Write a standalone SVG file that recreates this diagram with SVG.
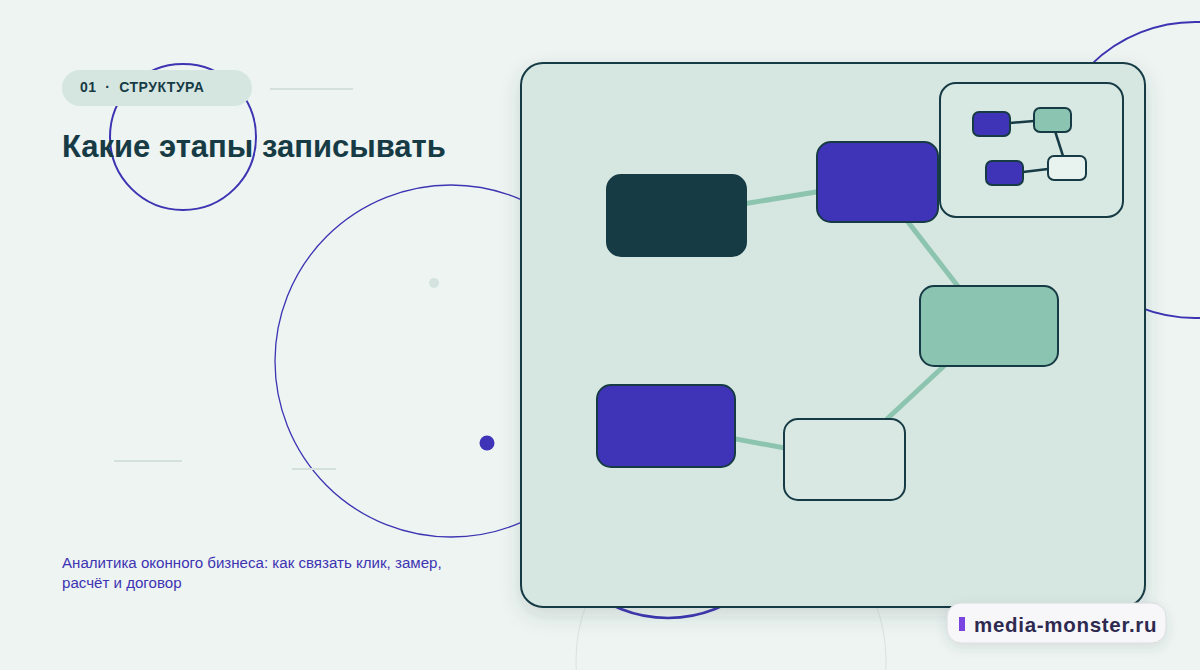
<svg xmlns="http://www.w3.org/2000/svg" width="1200" height="670" viewBox="0 0 1200 670">
<defs>
<style>
.node{stroke:#173b45;stroke-width:2}
.mini{stroke:#173b45;stroke-width:2}
.edge{stroke:#8cc4b0;stroke-width:5;fill:none;stroke-linecap:round}
.medge{stroke:#173b45;stroke-width:2.5;fill:none}
.ring{fill:none;stroke:#3d33b3}
.faint{stroke:#d3e0dc;stroke-width:2}
</style>
<filter id="sh" x="-10%" y="-10%" width="125%" height="130%">
<feDropShadow dx="0" dy="8" stdDeviation="10" flood-color="#2a4a48" flood-opacity="0.16"/>
</filter>
<filter id="sh2" x="-20%" y="-40%" width="140%" height="200%">
<feDropShadow dx="0" dy="4" stdDeviation="6" flood-color="#2a4a48" flood-opacity="0.12"/>
</filter>
</defs>
<rect width="1200" height="670" fill="#edf4f1"/>
<g id="decor">
<circle cx="731" cy="660" r="155" fill="none" stroke="#dde5e2" stroke-width="1.2"/>
<circle cx="668" cy="490" r="128" class="ring" stroke-width="2.5"/>
<circle cx="451" cy="361" r="176" class="ring" stroke-width="1.3"/>
<circle cx="1195" cy="170" r="148" class="ring" stroke-width="2"/>
<circle cx="183" cy="137" r="73" class="ring" stroke-width="2"/>
<circle cx="434" cy="283" r="5" fill="#d4e3df"/>
<circle cx="487" cy="443" r="7.5" fill="#3f33b8"/>
<line x1="270" y1="89" x2="353" y2="89" class="faint"/>
<line x1="114" y1="461" x2="182" y2="461" class="faint"/>
<line x1="292" y1="469" x2="336" y2="469" class="faint" stroke-width="1"/>
</g>
<g id="chip">
<rect x="62" y="70" width="190" height="36" rx="18" fill="#d5e6e1"/>
<text x="80" y="92" font-family="Liberation Sans, Arial, sans-serif" font-weight="700" font-size="14" letter-spacing="0.5" fill="#173b45" xml:space="preserve">01  ·  СТРУКТУРА</text>
</g>
<text id="title" x="62" y="157" font-family="Liberation Sans, Arial, sans-serif" font-weight="700" font-size="31" fill="#173b45">Какие этапы записывать</text>
<g id="subtitle" font-family="Liberation Sans, Arial, sans-serif" font-size="15.1" fill="#3d33b3">
<text x="62" y="568">Аналитика оконного бизнеса: как связать клик, замер,</text>
<text x="62" y="588">расчёт и договор</text>
</g>
<g id="panel">
<rect x="521" y="63" width="624" height="544" rx="22" fill="#d6e7e1" stroke="#173b45" stroke-width="2" filter="url(#sh)"/>
</g>
<g id="connectors">
<line x1="676" y1="215" x2="877" y2="182" class="edge"/>
<line x1="877" y1="182" x2="988" y2="325" class="edge"/>
<line x1="988" y1="325" x2="844" y2="459" class="edge"/>
<line x1="666" y1="426" x2="844" y2="459" class="edge"/>
</g>
<g id="node-dark"><rect x="607" y="175" width="139" height="81" rx="14" fill="#173b45" class="node"/></g>
<g id="node-purple-top"><rect x="817" y="142" width="121" height="80" rx="14" fill="#3f33b8" class="node"/></g>
<g id="node-green"><rect x="920" y="286" width="138" height="80" rx="14" fill="#8bc4b1" class="node"/></g>
<g id="node-purple-bottom"><rect x="597" y="385" width="138" height="82" rx="14" fill="#3f33b8" class="node"/></g>
<g id="node-white"><rect x="784" y="419" width="121" height="81" rx="14" fill="#d9e8e3" class="node"/></g>
<g id="inset">
<rect x="940" y="83" width="183" height="134" rx="16" fill="#d8e8e3" stroke="#173b45" stroke-width="2"/>
<g id="mini-connectors">
<line x1="1010" y1="123" x2="1034" y2="121" class="medge"/>
<line x1="1055" y1="131" x2="1063" y2="156" class="medge"/>
<line x1="1023" y1="172" x2="1048" y2="169" class="medge"/>
</g>
<g id="mini-1"><rect x="973" y="112" width="37" height="24" rx="6" fill="#3f33b8" class="mini"/></g>
<g id="mini-2"><rect x="1034" y="108" width="37" height="24" rx="6" fill="#8bc4b1" class="mini"/></g>
<g id="mini-3"><rect x="986" y="161" width="37" height="24" rx="6" fill="#3f33b8" class="mini"/></g>
<g id="mini-4"><rect x="1048" y="156" width="38" height="24" rx="6" fill="#e8f2ee" class="mini"/></g>
</g>
<g id="badge">
<rect x="947" y="603" width="219" height="40" rx="14" fill="#f7f7f9" stroke="#d9dcdc" stroke-width="1" filter="url(#sh2)"/>
<rect x="959" y="617" width="6" height="14" fill="#7a44e0"/>
<text x="974" y="632" font-family="Liberation Sans, Arial, sans-serif" font-weight="700" font-size="20.5" letter-spacing="0.7" fill="#2e2a4f">media-monster.ru</text>
</g>
</svg>
